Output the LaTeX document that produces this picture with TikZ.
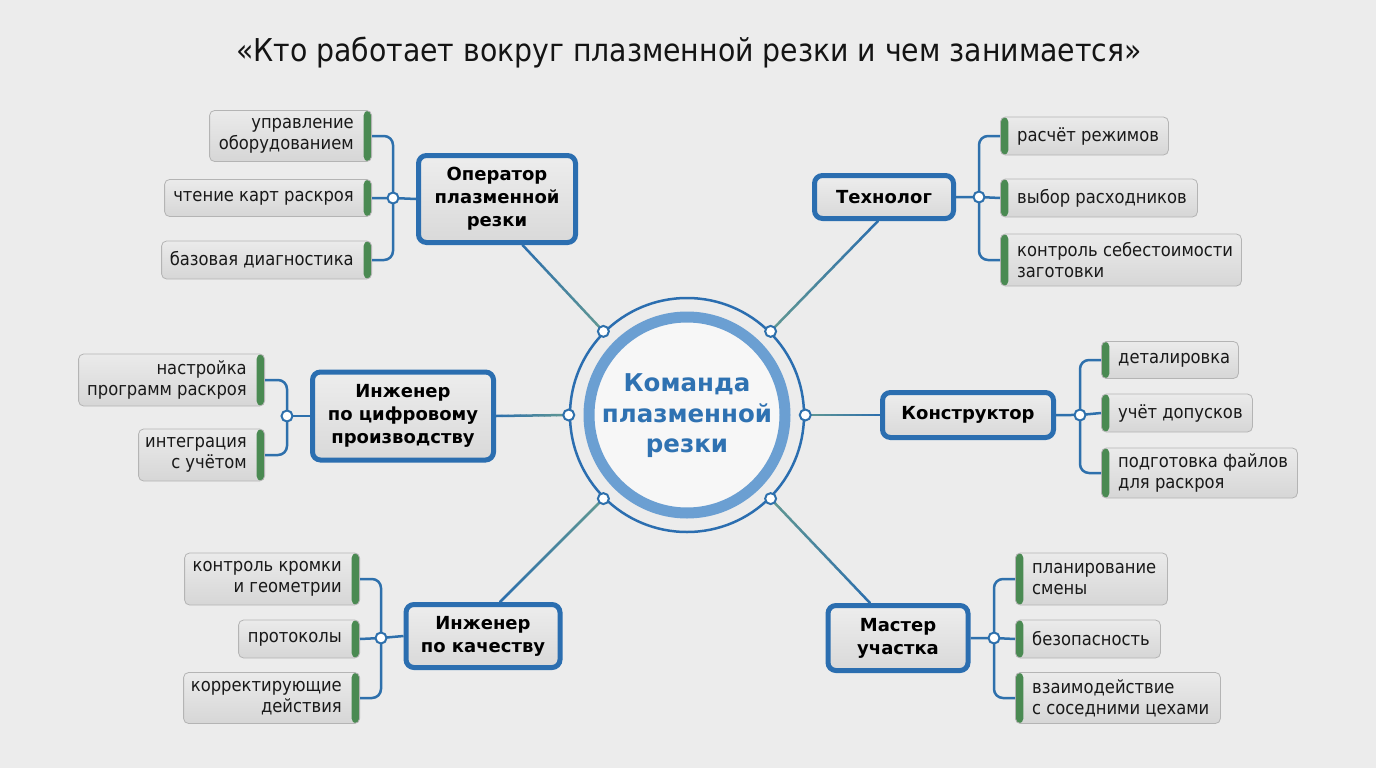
\documentclass[tikz,border=0pt]{standalone}
\usepackage{fontspec}
\setmainfont{DejaVu Sans}
\newfontfamily\leaffont{DejaVu Sans Condensed}
\usetikzlibrary{calc}
\definecolor{bg}{HTML}{ECECEC}
\definecolor{roleblue}{HTML}{2B6EB0}
\definecolor{ringblue}{HTML}{6B9FD2}
\definecolor{lineblue}{HTML}{2E70AC}
\definecolor{linegreen}{HTML}{5F9793}
\definecolor{leafgreen}{HTML}{4A8A52}
\definecolor{leafborder}{HTML}{B4B4B4}
\definecolor{hubtext}{HTML}{2F72B2}
\tikzset{
  role/.style={draw=roleblue, line width=5pt, rounded corners=8pt, top color=black!7, bottom color=black!15,
    align=center, font=\fontsize{18}{23}\selectfont\bfseries, inner sep=0pt},
  leafbase/.style={draw=leafborder, line width=0.8pt, rounded corners=5pt, top color=black!8, bottom color=black!16,
    inner sep=0pt},
  leafboxL/.style={leafbase,
    path picture={\fill[leafgreen] ([xshift=-8pt]path picture bounding box.north east) rectangle (path picture bounding box.south east);}},
  leafboxR/.style={leafbase,
    path picture={\fill[leafgreen] (path picture bounding box.north west) rectangle ([xshift=8pt]path picture bounding box.south west);}},
  leaftext/.style={font=\leaffont\fontsize{18.2}{21}\selectfont, inner sep=0pt, text=black!90},
  bus/.style={draw=lineblue, line width=2.5pt, rounded corners=9pt},
  jdot/.style={circle, draw=lineblue, line width=2pt, fill=white, minimum size=11pt, inner sep=0pt},
}
% left leaf: name, x of right edge, y, width, height, text
\newcommand{\leafL}[6]{%
  \node[leafboxL, anchor=east, minimum width=#4pt, minimum height=#5pt] (#1) at (#2,#3) {};
  \node[leaftext, anchor=east, align=right] (#1t) at ($(#1.east)+(-18,0)$) {#6};}
% right leaf: name, x of left edge, y, width, height, text
\newcommand{\leafR}[6]{%
  \node[leafboxR, anchor=west, minimum width=#4pt, minimum height=#5pt] (#1) at (#2,#3) {};
  \node[leaftext, anchor=west, align=left] (#1t) at ($(#1.west)+(17,0)$) {#6};}
\newcommand{\gradline}[2]{%
  \foreach \i in {0,...,11}{%
    \pgfmathtruncatemacro\q{100-\i*100/11}%
    \draw[line width=2.5pt, line cap=round, color={lineblue!\q!linegreen}]
      ($(#1)!\i/12!(#2)$) -- ($(#1)!\i/12+1/12!(#2)$);
  }%
}
\begin{document}
\begin{tikzpicture}[x=1pt, y=-1pt]
\fill[bg] (0,0) rectangle (1376,768);
\useasboundingbox (0,0) rectangle (1376,768);

% title
\node[font=\leaffont\fontsize{31.5}{34}\selectfont, text=black!92] (title) at (689,53) {«Кто работает вокруг плазменной резки и чем занимается»};

% hub
\fill[black!3] (687,415) circle (96);
\draw[ringblue, line width=11pt] (687,415) circle (98);
\node[circle, draw=roleblue, line width=2.5pt, minimum size=234pt, inner sep=0pt] (hub) at (687,415) {};
\node[text=hubtext, font=\fontsize{24.5}{30.5}\selectfont\bfseries, align=center] (hubtxt) at (687,416) {Команда\\плазменной\\резки};

% role boxes
\node[role, minimum width=157pt, minimum height=87pt] (op) at (497,199) {Оператор\\плазменной\\резки};
\node[role, minimum width=139pt, minimum height=43pt] (tech) at (884,197) {Технолог};
\node[role, minimum width=181pt, minimum height=88pt] (dig) at (403,416) {Инженер\\по цифровому\\производству};
\node[role, minimum width=171pt, minimum height=45pt] (kon) at (968,415) {Конструктор};
\node[role, minimum width=154pt, minimum height=63pt] (qual) at (483,636) {Инженер\\по качеству};
\node[role, minimum width=140pt, minimum height=65pt] (mas) at (898,638) {Мастер\\участка};

% junction points on hub
\coordinate (h1) at (hub.135);
\coordinate (h2) at (hub.45);
\coordinate (h3) at (hub.180);
\coordinate (h4) at (hub.0);
\coordinate (h5) at (hub.225);
\coordinate (h6) at (hub.315);

% role -> hub connectors
\gradline{op.-61}{h1}
\gradline{$(tech.south)+(-6,0)$}{h2}
\gradline{dig.east}{h3}
\gradline{kon.west}{h4}
\gradline{$(qual.north)+(17,0)$}{h5}
\gradline{$(mas.north)+(-28,0)$}{h6}

% leaves: Оператор
\leafL{a1}{372}{136}{162}{51}{управление\\оборудованием}
\leafL{a2}{372}{198}{207}{37}{чтение карт раскроя}
\leafL{a3}{372}{260}{210}{38}{базовая диагностика}
\coordinate (da) at (393,198);
\draw[bus] (a1.east) -| (da) |- (a3.east);
\draw[bus] (a2.east) -- (da) -- (op.west);

% leaves: Технолог
\leafR{b1}{1000}{136}{168}{38}{расчёт режимов}
\leafR{b2}{1000}{198}{197}{38}{выбор расходников}
\leafR{b3}{1000}{260}{241}{52}{контроль себестоимости\\заготовки}
\coordinate (db) at (979,197);
\draw[bus] (b1.west) -| (db) |- (b3.west);
\draw[bus] (tech.east) -- (db) -- (b2.west);

% leaves: Инженер по цифровому производству
\leafL{c1}{265}{380}{186}{52}{настройка\\программ раскроя}
\leafL{c2}{265}{455}{126}{52}{интеграция\\с учётом}
\coordinate (dc) at (287,416);
\draw[bus] (c1.east) -| (dc) |- (c2.east);
\draw[bus] (dc) -- (dig.west);

% leaves: Конструктор
\leafR{k1}{1101}{360}{137}{37}{деталировка}
\leafR{k2}{1101}{413}{151}{38}{учёт допусков}
\leafR{k3}{1101}{473}{196}{50}{подготовка файлов\\для раскроя}
\coordinate (dk) at (1080,415);
\draw[bus] (k1.west) -| (dk) |- (k3.west);
\draw[bus] (kon.east) -- (dk) -- (k2.west);

% leaves: Инженер по качеству
\leafL{q1}{360}{579}{175}{52}{контроль кромки\\и геометрии}
\leafL{q2}{360}{639}{121}{38}{протоколы}
\leafL{q3}{360}{698}{176}{51}{корректирующие\\действия}
\coordinate (dq) at (381,638);
\draw[bus] (q1.east) -| (dq) |- (q3.east);
\draw[bus] (q2.east) -- (dq) -- (qual.west);

% leaves: Мастер участка
\leafR{m1}{1015}{579}{152}{52}{планирование\\смены}
\leafR{m2}{1015}{639}{145}{38}{безопасность}
\leafR{m3}{1015}{698}{205}{51}{взаимодействие\\с соседними цехами}
\coordinate (dm) at (994,638);
\draw[bus] (m1.west) -| (dm) |- (m3.west);
\draw[bus] (mas.east) -- (dm) -- (m2.west);

% junction dots
\foreach \p in {h1,h2,h3,h4,h5,h6,da,db,dc,dk,dq,dm}
  \node[jdot] at (\p) {};
\end{tikzpicture}
\end{document}
